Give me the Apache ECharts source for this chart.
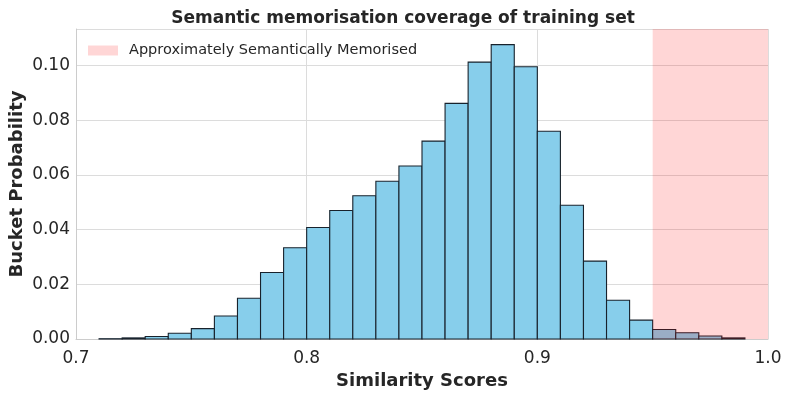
<!DOCTYPE html>
<html>
<head>
<meta charset="utf-8">
<script src="https://cdn.jsdelivr.net/npm/echarts@6/dist/echarts.min.js"></script>
<style>
  html, body { margin: 0; padding: 0; background: #fff; }
  #chart { width: 793px; height: 397px; }
</style>
</head>
<body>
<div id="chart"></div>
<script>
// histogram bins: left edges, width 0.01
const binStarts = [0.70, 0.71, 0.72, 0.73, 0.74, 0.75, 0.76, 0.77, 0.78, 0.79,
                   0.80, 0.81, 0.82, 0.83, 0.84, 0.85, 0.86, 0.87, 0.88, 0.89,
                   0.90, 0.91, 0.92, 0.93, 0.94, 0.95, 0.96, 0.97, 0.98, 0.99];
const binWidth = 0.01;
const bucketProb = [0, 0.0001, 0.0004, 0.0009, 0.0021, 0.0038, 0.0084, 0.0149, 0.0243, 0.0334,
                    0.0408, 0.0470, 0.0524, 0.0577, 0.0633, 0.0724, 0.0862, 0.1013, 0.1077, 0.0996,
                    0.0760, 0.0489, 0.0285, 0.0142, 0.0069, 0.0035, 0.0023, 0.0011, 0.0004, 0];
const memorisedRange = [0.95, 1.0];
const xTicks = [0.7, 0.8, 0.9, 1.0];
const yTicks = [0, 0.02, 0.04, 0.06, 0.08, 0.10];
const yMax = 0.1134;

const textColor = '#262626';
const gridColor = '#dcdcdc';
const spanColor = 'rgba(255,0,0,0.16)';
const font = 'DejaVu Sans';

const histData = binStarts.map((x, i) => [x, x + binWidth, bucketProb[i]]);

const chart = echarts.init(document.getElementById('chart'), null, { renderer: 'canvas' });

chart.setOption({
  animation: false,
  textStyle: { fontFamily: font, color: textColor },
  title: {
    text: 'Semantic memorisation coverage of training set',
    left: 398, top: 5, textAlign: 'center',
    textStyle: { fontFamily: font, fontSize: 17, fontWeight: 'bold', color: textColor }
  },
  legend: {
    left: 83, top: 38,
    itemWidth: 30, itemHeight: 10, itemGap: 10,
    textStyle: { fontFamily: font, fontSize: 14.5, color: textColor, padding: [0, 0, 0, 6] },
    data: [{ name: 'Approximately Semantically Memorised', icon: 'rect',
             itemStyle: { color: spanColor, borderWidth: 0 } }]
  },
  grid: { left: 76, right: 25, top: 29, bottom: 58, containLabel: false, outerBoundsMode: 'none' },
  xAxis: {
    type: 'value', min: 0.7, max: 1.0, interval: 0.1,
    name: 'Similarity Scores', nameLocation: 'middle', nameGap: 33, nameMoveOverlap: false,
    nameTextStyle: { fontFamily: font, fontSize: 18, fontWeight: 'bold', color: textColor },
    axisLine: { show: true, lineStyle: { color: '#cccccc', width: 1 } },
    axisTick: { show: false },
    axisLabel: {
      fontFamily: font, fontSize: 17, color: textColor, margin: 11,
      formatter: v => xTicks.some(t => Math.abs(t - v) < 1e-9) ? v.toFixed(1) : ''
    },
    splitLine: { show: true, lineStyle: { color: gridColor, width: 1 } }
  },
  yAxis: {
    type: 'value', min: 0, max: yMax, interval: 0.02,
    name: 'Bucket Probability', nameLocation: 'middle', nameGap: 50, nameMoveOverlap: false,
    nameTextStyle: { fontFamily: font, fontSize: 18, fontWeight: 'bold', color: textColor },
    axisLine: { show: true, lineStyle: { color: '#cccccc', width: 1 } },
    axisTick: { show: false },
    axisLabel: {
      fontFamily: font, fontSize: 17, color: textColor, margin: 6,
      formatter: v => yTicks.some(t => Math.abs(t - v) < 1e-9) ? v.toFixed(2) : ''
    },
    splitLine: { show: true, lineStyle: { color: gridColor, width: 1 } }
  },
  series: [
    {
      type: 'custom',
      name: 'hist',
      z: 2,
      encode: { x: [0, 1], y: 2 },
      data: histData,
      renderItem: (params, api) => {
        const h = api.value(2);
        if (h <= 0) return null;
        const p0 = api.coord([api.value(0), h]);
        const p1 = api.coord([api.value(1), 0]);
        return {
          type: 'rect',
          shape: { x: p0[0], y: p0[1], width: p1[0] - p0[0], height: p1[1] - p0[1] },
          style: { fill: '#87ceeb', stroke: '#18222c', lineWidth: 1.1 }
        };
      }
    },
    {
      // shaded span drawn over the bars
      type: 'custom',
      name: 'Approximately Semantically Memorised',
      z: 5,
      itemStyle: { color: spanColor },
      encode: { x: [0, 1] },
      data: [[memorisedRange[0], memorisedRange[1]]],
      renderItem: (params, api) => {
        const p0 = api.coord([api.value(0), yMax]);
        const p1 = api.coord([api.value(1), 0]);
        return {
          type: 'rect',
          shape: { x: p0[0], y: p0[1], width: p1[0] - p0[0], height: p1[1] - p0[1] },
          style: { fill: spanColor }
        };
      }
    }
  ]
});
</script>
</body>
</html>
